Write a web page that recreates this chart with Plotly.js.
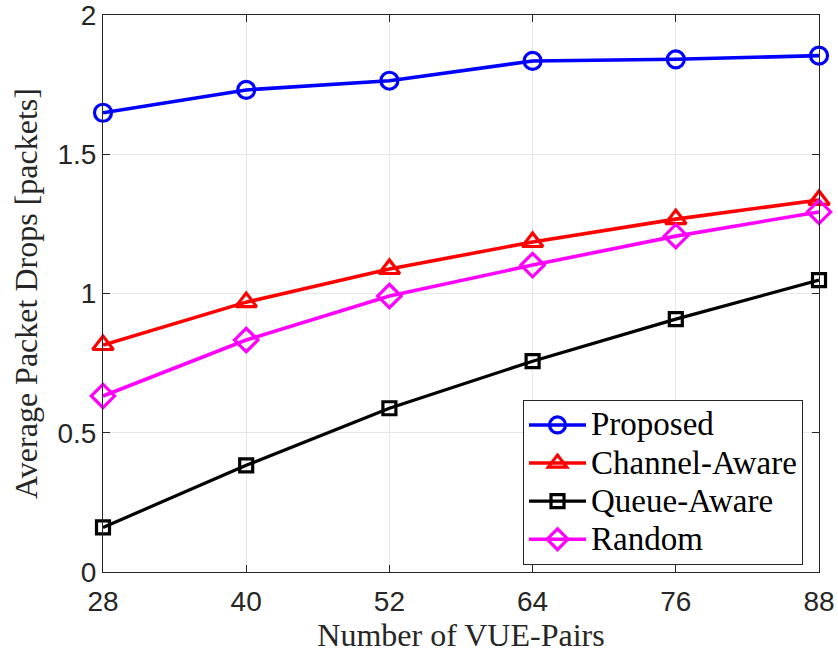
<!DOCTYPE html>
<html>
<head>
<meta charset="utf-8">
<script src="https://cdn.plot.ly/plotly-3.0.1.min.js"></script>
<style>html,body{margin:0;padding:0;background:#fff;}#chart{width:838px;height:654px;}</style>
</head>
<body>
<div id="chart"></div>
<script>
const vuePairs = [28, 40, 52, 64, 76, 88];
const proposed = [1.649, 1.731, 1.764, 1.835, 1.841, 1.854];
const channelAware = [0.815, 0.969, 1.088, 1.185, 1.267, 1.336];
const queueAware = [0.160, 0.383, 0.588, 0.757, 0.908, 1.048];
const randomSched = [0.632, 0.833, 0.991, 1.102, 1.206, 1.293];
const seriesNames = ["Proposed", "Channel-Aware", "Queue-Aware", "Random"];
const xTicks = [28, 40, 52, 64, 76, 88];
const yTicks = [0, 0.5, 1, 1.5, 2];
const yTickText = ["0", "0.5", "1", "1.5", "2"];

const SANS = "Liberation Sans";
const SERIF = "Liberation Serif";

function legendLabel(s) {
  return "<span style='font-size:33px'>" + s + "</span>";
}
function tr(y, name, color, symbol, msize, lw) {
  return {
    x: vuePairs, y: y, name: legendLabel(name), type: "scatter", mode: "lines+markers",
    line: {color: color, width: lw},
    marker: {symbol: symbol, size: msize, color: color, line: {color: color, width: 3.2}},
    cliponaxis: false
  };
}
const data = [
  tr(proposed, seriesNames[0], "#0000ff", "circle-open", 17, 3.6),
  tr(channelAware, seriesNames[1], "#ff0000", "triangle-up-open", 18, 3.6),
  tr(queueAware, seriesNames[2], "#000000", "square-open", 13, 3.2),
  tr(randomSched, seriesNames[3], "#ff00ff", "diamond-open", 18, 3.6)
];
const axisCommon = {
  showline: true, linecolor: "#262626", linewidth: 1, mirror: "ticks",
  ticks: "inside", ticklen: 7, tickcolor: "#262626",
  showgrid: true, gridcolor: "#e6e6e6", gridwidth: 1, zeroline: false,
  ticklabeloverflow: "allow",
  tickfont: {family: SANS, size: 28, color: "#262626"}
};
const layout = {
  width: 838, height: 654,
  font: {family: SERIF, size: 30, color: "#262626"},
  margin: {l: 103, r: 19, t: 15, b: 82},
  paper_bgcolor: "#ffffff", plot_bgcolor: "#ffffff",
  showlegend: true,
  xaxis: Object.assign({}, axisCommon, {
    range: [28, 88], tickvals: xTicks, ticktext: xTicks.map(String),
    ticklabelstandoff: 4,
    title: {text: "Number of VUE-Pairs", font: {family: SERIF, size: 32, color: "#262626"}, standoff: 6}
  }),
  yaxis: Object.assign({}, axisCommon, {
    range: [0, 2], tickvals: yTicks, ticktext: yTickText,
    title: {text: "Average Packet Drops [packets]", font: {family: SERIF, size: 32, color: "#262626"}, standoff: 10}
  }),
  legend: {
    x: 0.5866, y: 0.309, xanchor: "left", yanchor: "top",
    bgcolor: "#ffffff", bordercolor: "#262626", borderwidth: 1,
    font: {family: SERIF, size: 27, color: "#000000"},
    itemwidth: 57
  }
};
Plotly.newPlot("chart", data, layout, {staticPlot: true, displayModeBar: false});
</script>
</body>
</html>
